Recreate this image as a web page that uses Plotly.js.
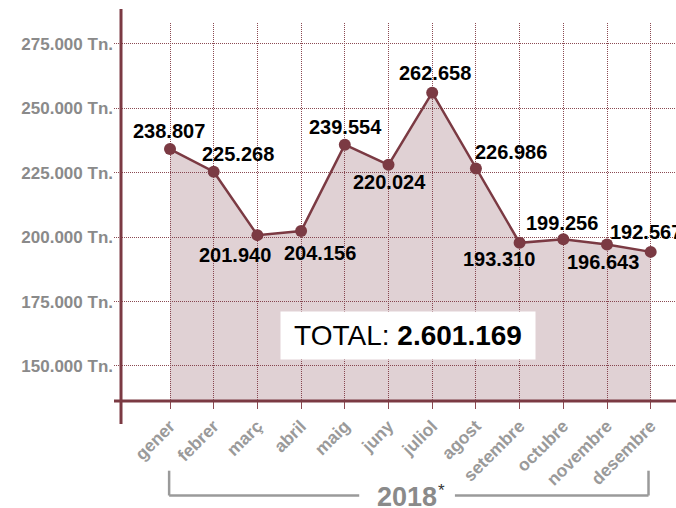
<!DOCTYPE html>
<html>
<head>
<meta charset="utf-8">
<script src="https://cdn.plot.ly/plotly-3.0.1.min.js"></script>
<style>html,body{margin:0;padding:0;background:#fff;}#chart{width:676px;height:508px;}</style>
</head>
<body>
<div id="chart"></div>
<script>
// Months of 2018
const months = ['gener','febrer','març','abril','maig','juny','juliol','agost','setembre','octubre','novembre','desembre'];
// Reported monthly tonnes (printed labels)
const reportedTonnes = [238807, 225268, 201940, 204156, 239554, 220024, 262658, 226986, 193310, 199256, 196643, 192567];
// Level at which each point is drawn in the picture
const plottedTonnes = [234200, 225400, 200800, 202400, 235900, 228100, 256100, 226700, 197800, 199200, 197200, 194300];
// Y axis ticks
const yTickVals = [150000, 175000, 200000, 225000, 250000, 275000];
const yTickText = ['150.000 Tn.', '175.000 Tn.', '200.000 Tn.', '225.000 Tn.', '250.000 Tn.', '275.000 Tn.'];
const periodLabel = '2018';

// label offsets (style)
const labelDx = [-1, 24, -22, 19, 1, 1, 3, 35, -21, -1.5, -4, -5];
const labelDy = [-18.3, -17.7, 20, 22, -17.7, 17, -19.3, -16, 16.6, -16.3, 17.4, -20];

function fmt(n) { return String(n).replace(/\B(?=(\d{3})+(?!\d))/g, '.'); }
const total = reportedTonnes.reduce((a, b) => a + b, 0);

const LINE = '#7b3a43';
const GRID = '#8b4a52';
const FONT = 'Liberation Sans, Arial, Helvetica, sans-serif';

const trace = {
  type: 'scatter', mode: 'lines+markers',
  x: months, y: plottedTonnes,
  line: {color: LINE, width: 2.5},
  marker: {color: LINE, size: 12},
  fill: 'tozeroy', fillcolor: 'rgba(123,58,67,0.23)',
  hoverinfo: 'skip'
};

const annotations = months.map((m, i) => ({
  x: m, y: plottedTonnes[i], xref: 'x', yref: 'y',
  text: fmt(reportedTonnes[i]), showarrow: false,
  xshift: labelDx[i], yshift: -labelDy[i],
  xanchor: 'center', yanchor: 'middle',
  font: {family: FONT, size: 20, color: '#000', weight: 'bold'}
}));

annotations.push({
  x: 5.44, y: 0.1725, xref: 'x', yref: 'paper',
  text: 'TOTAL: <b>' + fmt(total) + '</b>', showarrow: false,
  width: 254, height: 47, borderpad: 0, bgcolor: '#ffffff',
  xanchor: 'center', yanchor: 'middle', align: 'center', valign: 'middle',
  font: {family: FONT, size: 28, color: '#000'}
});
annotations.push({
  x: 5.419, y: -0.254, xref: 'x', yref: 'paper',
  text: periodLabel, showarrow: false, xanchor: 'center', yanchor: 'middle',
  font: {family: FONT, size: 27, color: '#8a8a8a', weight: 'bold'}
});
annotations.push({
  x: 6.22, y: -0.236, xref: 'x', yref: 'paper',
  text: '*', showarrow: false, xanchor: 'center', yanchor: 'middle',
  font: {family: FONT, size: 17, color: '#333'}
});

const BR = '#9a9a9a';
const shapes = [
  // y axis line
  {type: 'line', xref: 'x', yref: 'paper', x0: -1.121, x1: -1.121, y0: -0.0608, y1: 1.037, line: {color: LINE, width: 3}},
  // x axis line
  {type: 'line', xref: 'x', yref: 'paper', x0: -1.739, x1: 11.6, y0: 0, y1: 0, line: {color: LINE, width: 3}},
  // bracket
  {type: 'line', xref: 'x', yref: 'paper', x0: -0.02, x1: -0.02, y0: -0.1844, y1: -0.25, line: {color: BR, width: 2.5}},
  {type: 'line', xref: 'x', yref: 'paper', x0: -0.02, x1: 4.33, y0: -0.25, y1: -0.25, line: {color: BR, width: 2.5}},
  {type: 'line', xref: 'x', yref: 'paper', x0: 6.52, x1: 10.95, y0: -0.25, y1: -0.25, line: {color: BR, width: 2.5}},
  {type: 'line', xref: 'x', yref: 'paper', x0: 10.95, x1: 10.95, y0: -0.1844, y1: -0.25, line: {color: BR, width: 2.5}}
];

const layout = {
  width: 676, height: 508,
  margin: {l: 114, r: 0, t: 23, b: 107},
  paper_bgcolor: '#fff', plot_bgcolor: '#fff',
  showlegend: false,
  xaxis: {
    type: 'category', range: [-1.2815, 11.579],
    showgrid: true, gridcolor: GRID, griddash: '1px,1px', gridwidth: 1,
    zeroline: false, showline: false,
    ticks: 'outside', ticklen: 7, tickcolor: GRID, tickwidth: 1,
    tickangle: -45,
    tickfont: {family: FONT, size: 17.5, color: '#9a9a9a', weight: 'bold'}
  },
  yaxis: {
    range: [136410, 283150],
    tickvals: yTickVals, ticktext: yTickText,
    showgrid: true, gridcolor: GRID, griddash: '1px,1px', gridwidth: 1,
    zeroline: false, showline: false, ticks: '',
    tickfont: {family: FONT, size: 17, color: '#8a8a8a', weight: 'bold'}
  },
  annotations: annotations,
  shapes: shapes
};

Plotly.newPlot('chart', [trace], layout, {staticPlot: true, displayModeBar: false});
</script>
</body>
</html>
